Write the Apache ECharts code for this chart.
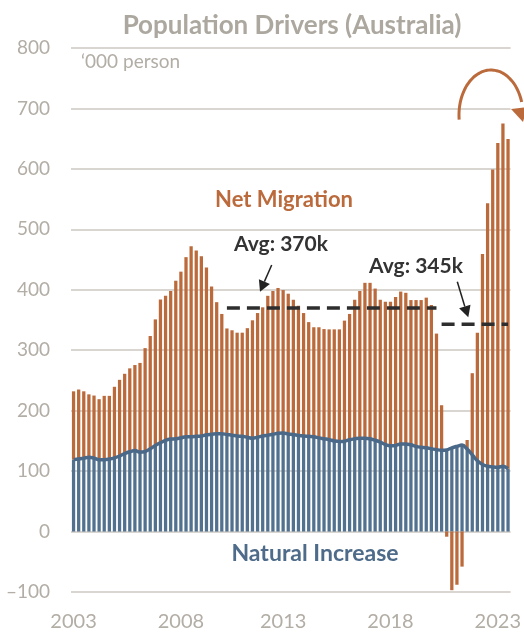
<!DOCTYPE html>
<html>
<head>
<meta charset="utf-8">
<script src="https://cdn.jsdelivr.net/npm/echarts@6/dist/echarts.min.js"></script>
<style>
html,body{margin:0;padding:0;background:#fff;}
#chart{width:524px;height:632px;}
</style>
</head>
<body>
<div id="chart"></div>
<script>
// ---- data (thousand persons, quarterly periods) ----
const naturalIncrease = [
  119,120,121.5,123,121.5,119,119,120,122,125,129,132,134,131.5,132.5,137,142.5,147,151,153,
  153.5,155,157,157,157.5,158,160,161,162,162,160.5,159.5,158,157.5,156,154.5,156,158,159.5,161,
  162.5,163,161.5,160.5,159,158,157.5,157,155,153.5,152,150,149,149.5,152,153.5,154.5,154.5,153.5,151,
  148,144,142,142.5,145,145,143.5,141,139.5,138.5,137,135.5,134.5,135,138.5,141,143,136.5,127,117,
  111,108,107,106.5,108,104
];
const netMigration = [
  113,115,110.5,104,103.5,100,105.5,104.5,117.5,126,132,138,141.5,147.5,171,186.5,208.5,237,239,245,
  261.5,275,297,315,307.5,297.5,277,244.5,217.5,198,175.5,173.5,171,171.5,180.5,195,205.5,213,230.5,237,
  240.5,236.5,232,223,214.5,203.5,189,181,183,181.5,182.5,184.5,185.5,199.5,208,230,243.5,257,258,251,
  235.5,236,238,245.5,252,250,239.5,242,243.5,248.5,238,192,74.5,-8.5,-97,-88,-58,15,135,212,
  348,435,492,536.5,567,545.5
];
const xTickLabels = ['2003','2008','2013','2018','2023'];
const xTickIndex = [0,21,41,62,83];
const yTicks = [-100,0,100,200,300,400,500,600,700,800];
const avgValues = [370, 343];
const avgStart = [30, 72];
const avgEnd = [71, 85];
const avgLabels = ['Avg: 370k', 'Avg: 345k'];

const categories = naturalIncrease.map((_, i) => 'P' + (i + 1));
const avgSeriesData = avgValues.map((v, k) =>
  categories.map((_, i) => (i >= avgStart[k] && i <= avgEnd[k]) ? v : null));

const ORANGE = '#bb6a3c';
const BLUE = '#52718f';
const BLUE_LINE = '#4a6887';
const GREY = '#b2ada5';

const chart = echarts.init(document.getElementById('chart'), null, {renderer: 'canvas'});

// decorative curved arrow (ellipse arc)
const arcPts = [];
for (let t = 3.04; t <= 6.03; t += 0.05) {
  arcPts.push([491 + 32 * Math.cos(t), 115 + 45 * Math.sin(t)]);
}

const option = {
  animation: false,
  backgroundColor: '#fff',
  grid: {left: 71, right: 9, top: 48, bottom: 39, containLabel: false},
  xAxis: {
    type: 'category',
    data: categories,
    boundaryGap: true,
    axisLine: {show: false},
    axisTick: {show: false},
    splitLine: {show: false},
    axisLabel: {
      interval: (index) => xTickIndex.indexOf(index) >= 0,
      formatter: (value, index) => {
        const k = xTickIndex.indexOf(index);
        return k >= 0 ? xTickLabels[k] : '';
      },
      color: GREY,
      fontFamily: 'Lato',
      fontSize: 20,
      margin: 20
    }
  },
  yAxis: {
    type: 'value',
    min: yTicks[0],
    max: yTicks[yTicks.length - 1],
    interval: 100,
    axisLine: {show: false},
    axisTick: {show: false},
    splitLine: {lineStyle: {color: '#cdc9c2', width: 1.5}},
    axisLabel: {
      color: GREY, fontFamily: 'Lato', fontSize: 19, margin: 21,
      formatter: (v) => String(v).replace('-', '\u2013')
    }
  },
  series: [
    {
      name: 'Natural Increase',
      type: 'bar',
      stack: 'drivers',
      data: naturalIncrease,
      barWidth: '64%',
      itemStyle: {color: BLUE},
      z: 2
    },
    {
      name: 'Net Migration',
      type: 'bar',
      stack: 'drivers',
      data: netMigration,
      barWidth: '64%',
      itemStyle: {color: ORANGE},
      z: 2
    },
    {
      name: 'NI line',
      type: 'line',
      data: naturalIncrease,
      smooth: 0.4,
      symbol: 'none',
      lineStyle: {color: BLUE_LINE, width: 3.5},
      z: 4
    },
    ...avgSeriesData.map((d, k) => ({
      name: avgLabels[k],
      type: 'line',
      data: d,
      symbol: 'none',
      connectNulls: false,
      lineStyle: {color: '#2e2e2e', width: 3.5, type: [13, 7]},
      z: 5
    }))
  ],
  graphic: [
    {type: 'text', z: 10, style: {text: 'Population Drivers (Australia)', x: 292, y: 26,
      textAlign: 'center', textVerticalAlign: 'middle', fill: '#aca89f',
      font: 'bold 26px Lato'}},
    {type: 'text', z: 10, style: {text: '\u2018000 person', x: 81, y: 62,
      textAlign: 'left', textVerticalAlign: 'middle', fill: GREY,
      font: '19px Lato'}},
    {type: 'text', z: 10, style: {text: 'Net Migration', x: 284, y: 200,
      textAlign: 'center', textVerticalAlign: 'middle', fill: ORANGE,
      font: 'bold 22px Lato'}},
    {type: 'text', z: 10, style: {text: 'Natural Increase', x: 315, y: 554,
      textAlign: 'center', textVerticalAlign: 'middle', fill: '#4e6c8a',
      font: 'bold 23px Lato'}},
    {type: 'text', z: 10, style: {text: avgLabels[0], x: 281, y: 244,
      textAlign: 'center', textVerticalAlign: 'middle', fill: '#333',
      font: 'bold 21px Lato'}},
    {type: 'text', z: 10, style: {text: avgLabels[1], x: 416, y: 266,
      textAlign: 'center', textVerticalAlign: 'middle', fill: '#333',
      font: 'bold 21px Lato'}},
    // arrow 1
    {type: 'line', z: 10, shape: {x1: 271.7, y1: 265, x2: 264.4, y2: 281.6},
      style: {stroke: '#222', lineWidth: 1.5}},
    {type: 'polygon', z: 10, shape: {points: [[260, 291.7], [269.9, 284], [258.9, 279.2]]},
      style: {fill: '#222'}},
    // arrow 2
    {type: 'line', z: 10, shape: {x1: 457.3, y1: 281.7, x2: 464.8, y2: 306.5},
      style: {stroke: '#222', lineWidth: 1.5}},
    {type: 'polygon', z: 10, shape: {points: [[468.3, 317.3], [470.5, 304.8], [459.1, 308.2]]},
      style: {fill: '#222'}},
    // curved orange arrow
    {type: 'polyline', z: 10, shape: {points: arcPts, smooth: 0.3},
      style: {stroke: ORANGE, lineWidth: 3, fill: null}},
    {type: 'polygon', z: 10, shape: {points: [[511, 109], [527, 107], [523, 122]]},
      style: {fill: ORANGE}}
  ]
};
chart.setOption(option);
</script>
</body>
</html>
